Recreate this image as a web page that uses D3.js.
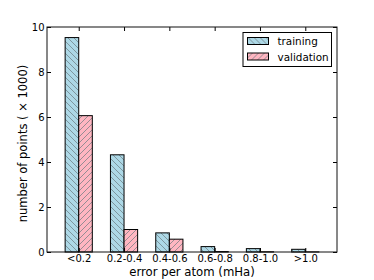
<!DOCTYPE html>
<html>
<head>
<meta charset="utf-8">
<script src="https://cdn.jsdelivr.net/npm/d3@7"></script>
<style>
body { margin: 0; background: #fff; }
text { font-family: "DejaVu Sans", sans-serif; font-size: 10px; }
</style>
</head>
<body>
<svg id="canvas" width="374" height="280"></svg>
<script>
// bins and counts (thousands)
const categories = ["<0.2", "0.2-0.4", "0.4-0.6", "0.6-0.8", "0.8-1.0", ">1.0"];
const training = [9.53, 4.32, 0.85, 0.24, 0.15, 0.12];
const validation = [6.06, 1.0, 0.57, 0.02, 0.01, 0.005];
const yTicks = [0, 2, 4, 6, 8, 10];

const svg = d3.select("#canvas");
const mLeft = 47, mRight = 337, mTop = 27, mBottom = 252;

const x = d3.scaleLinear().domain([-0.7, 5.7]).range([mLeft, mRight]);
const y = d3.scaleLinear().domain([0, 10]).range([mBottom, mTop]);
const bw = x(0.3) - x(0);

// hatch patterns
const defs = svg.append("defs");
function hatch(id, fill, dir) {
  const p = defs.append("pattern")
    .attr("id", id)
    .attr("patternUnits", "userSpaceOnUse")
    .attr("width", 6).attr("height", 6);
  p.append("rect").attr("width", 6).attr("height", 6).attr("fill", fill);
  const d = dir > 0
    ? "M0,6 L6,0 M-1,1 L1,-1 M5,7 L7,5"
    : "M0,0 L6,6 M-1,5 L1,7 M5,-1 L7,1";
  p.append("path").attr("d", d).attr("stroke", "#6a7a80").attr("stroke-width", 0.7);
}
hatch("hTrain", "#add8e6", -1);
hatch("hVal", "#ffb6c1", 1);

const g = svg.append("g");

g.selectAll(".train")
  .data(training)
  .join("rect")
  .attr("class", "train")
  .attr("x", (d, i) => x(i - 0.3))
  .attr("y", d => y(d))
  .attr("width", bw)
  .attr("height", d => y(0) - y(d))
  .attr("fill", "url(#hTrain)")
  .attr("stroke", "#000")
  .attr("stroke-width", 1);

g.selectAll(".val")
  .data(validation)
  .join("rect")
  .attr("class", "val")
  .attr("x", (d, i) => x(i))
  .attr("y", d => y(d))
  .attr("width", bw)
  .attr("height", d => y(0) - y(d))
  .attr("fill", "url(#hVal)")
  .attr("stroke", "#000")
  .attr("stroke-width", 1);

// axes
const xAxis = d3.axisBottom(x)
  .tickValues(d3.range(categories.length))
  .tickFormat(i => categories[i])
  .tickSizeInner(-4).tickSizeOuter(0).tickPadding(3);
svg.append("g").attr("transform", `translate(0,${mBottom})`).call(xAxis)
  .call(a => a.select(".domain").remove());
svg.append("g").attr("transform", `translate(0,${mTop})`)
  .call(d3.axisTop(x).tickValues(d3.range(categories.length)).tickFormat("").tickSizeInner(-4).tickSizeOuter(0))
  .call(a => a.select(".domain").remove());

const yAxis = d3.axisLeft(y).tickValues(yTicks).tickSizeInner(-4).tickSizeOuter(0).tickPadding(2.5);
svg.append("g").attr("transform", `translate(${mLeft},0)`).call(yAxis)
  .call(a => a.select(".domain").remove());
svg.append("g").attr("transform", `translate(${mRight},0)`)
  .call(d3.axisRight(y).tickValues(yTicks).tickFormat("").tickSizeInner(-4).tickSizeOuter(0))
  .call(a => a.select(".domain").remove());

svg.selectAll(".tick line").attr("stroke", "#000");
svg.selectAll(".tick text").attr("fill", "#000")
  .style("font-family", "DejaVu Sans").style("font-size", "10px");

svg.append("rect")
  .attr("x", mLeft).attr("y", mTop)
  .attr("width", mRight - mLeft).attr("height", mBottom - mTop)
  .attr("fill", "none").attr("stroke", "#111").attr("stroke-width", 1);

// labels
svg.append("text")
  .attr("x", (mLeft + mRight) / 2).attr("y", 275.5)
  .attr("text-anchor", "middle")
  .style("font-size", "11.7px")
  .text("error per atom (mHa)");
svg.append("text")
  .attr("transform", `translate(26.5,${(mTop + mBottom) / 2 + 4}) rotate(-90)`)
  .attr("text-anchor", "middle")
  .style("font-size", "11.5px")
  .text("number of points ( × 1000)");

// legend
const lg = svg.append("g").attr("transform", "translate(243,32.5)");
lg.append("rect").attr("width", 88.5).attr("height", 34)
  .attr("fill", "#fff").attr("stroke", "#000").attr("stroke-width", 1);
const items = [["training", "url(#hTrain)"], ["validation", "url(#hVal)"]];
items.forEach(([name, fill], i) => {
  lg.append("rect")
    .attr("x", 4.5).attr("y", 5 + i * 15.5)
    .attr("width", 21).attr("height", 7)
    .attr("fill", fill).attr("stroke", "#000").attr("stroke-width", 1);
  lg.append("text").attr("x", 34.5).attr("y", 12.5 + i * 15.5)
    .style("font-size", "10.4px").text(name);
});
</script>
</body>
</html>
